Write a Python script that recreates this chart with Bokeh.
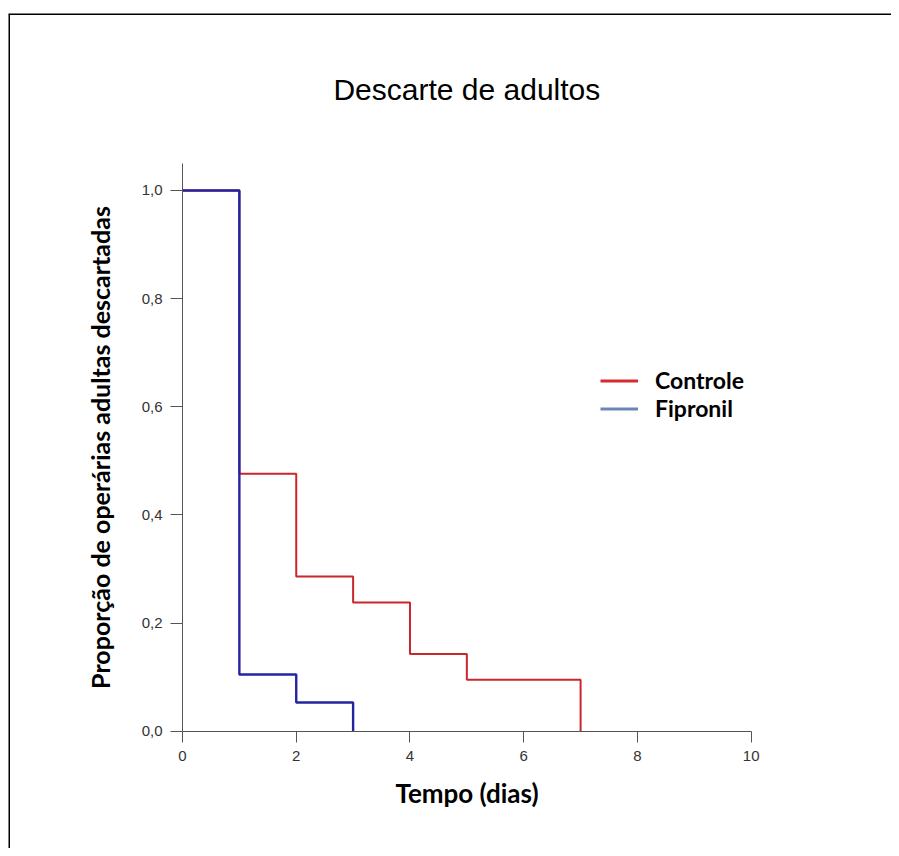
from bokeh.plotting import figure
from bokeh.models import (Range1d, FixedTicker, CustomJSTickFormatter, Span, Label,
                          Legend, LegendItem, ColumnDataSource)
from bokeh.embed import file_html
from bokeh.resources import INLINE

# ---- data ----
title_text = "Descarte de adultos"
x_label = "Tempo (dias)"
y_label = "Proporção de operárias adultas descartadas"
series_names = ["Controle", "Fipronil"]

controle_t = [0, 1, 2, 3, 4, 5, 7]
controle_p = [1.0, 0.476, 0.286, 0.238, 0.143, 0.095, 0.0]
fipronil_t = [0, 1, 2, 3]
fipronil_p = [1.0, 0.105, 0.053, 0.0]

x_ticks = [0, 2, 4, 6, 8, 10]
y_ticks = [0.0, 0.2, 0.4, 0.6, 0.8, 1.0]

# ---- figure geometry ----
W, H = 891, 848
x_start, x_end = -3.0596, 12.467
y_start, y_end = -0.2169, 1.3273

p = figure(width=W, height=H, output_backend="svg", toolbar_location=None,
           x_range=Range1d(x_start, x_end), y_range=Range1d(y_start, y_end),
           min_border_left=8, min_border_right=0, min_border_bottom=0, min_border_top=13)
p.outline_line_color = None
p.background_fill_color = "white"
p.border_fill_color = "white"
p.xgrid.visible = False
p.ygrid.visible = False

# axes at data origin
for ax in (p.xaxis[0], p.yaxis[0]):
    ax.fixed_location = 0
    ax.axis_line_color = "#555555"
    ax.major_tick_line_color = "#555555"
    ax.minor_tick_line_color = None
    ax.major_label_text_font = "Liberation Sans"
    ax.major_label_text_font_size = "15px"
    ax.major_label_text_color = "#333333"
    ax.axis_label_text_font_style = "bold"
    ax.axis_label_text_font = "Lato"
    ax.axis_label_text_color = "black"

xa = p.xaxis[0]
xa.bounds = (0, 10)
xa.ticker = FixedTicker(ticks=x_ticks)
xa.major_tick_out = 11
xa.major_tick_in = 0
xa.major_label_standoff = 9
xa.axis_label = x_label
xa.axis_label_text_font_size = "26px"
xa.axis_label_standoff = 12

ya = p.yaxis[0]
ya.bounds = (0, 1.05)
ya.ticker = FixedTicker(ticks=y_ticks)
ya.major_tick_out = 12
ya.major_tick_in = 0
ya.major_label_standoff = 8
ya.formatter = CustomJSTickFormatter(code="return tick.toFixed(1).replace('.', ',')")
ya.axis_label = y_label
ya.axis_label_text_font_size = "25px"
ya.axis_label_standoff = 24

# survival steps
p.step(controle_t, controle_p, mode="after", line_color="#c8282c", line_width=2)
p.step(fipronil_t, fipronil_p, mode="after", line_color="#2424a0", line_width=2.4)

# legend (separate style swatches; NaN data so nothing is drawn in the plot)
nan = float("nan")
src_c = ColumnDataSource(data=dict(x=[nan], y=[nan]))
src_f = ColumnDataSource(data=dict(x=[nan], y=[nan]))
r_leg_c = p.line("x", "y", source=src_c, line_color="#d62a2e", line_width=3)
r_leg_f = p.line("x", "y", source=src_f, line_color="#6a86b8", line_width=3)
legend = Legend(items=[LegendItem(label=series_names[0], renderers=[r_leg_c]),
                       LegendItem(label=series_names[1], renderers=[r_leg_f])],
                location=(592, 426), orientation="vertical",
                border_line_color=None, background_fill_alpha=0,
                padding=0, margin=0, spacing=-8,
                glyph_width=38, glyph_height=23, label_height=23,
                label_standoff=17,
                label_text_font="Lato", label_text_font_style="bold",
                label_text_font_size="23px", label_text_color="black")
p.add_layout(legend, "center")

# title
p.add_layout(Label(x=5, y=1.187, text=title_text, text_align="center",
                   text_baseline="alphabetic", text_font="Liberation Sans",
                   text_font_size="30px", text_color="black"))

# outer border (top and left)
p.add_layout(Span(location=y_end, dimension="width", line_color="black", line_width=3))
p.add_layout(Span(location=x_start, dimension="height", line_color="black", line_width=3))

open("out.html", "w").write(file_html(p, INLINE))
